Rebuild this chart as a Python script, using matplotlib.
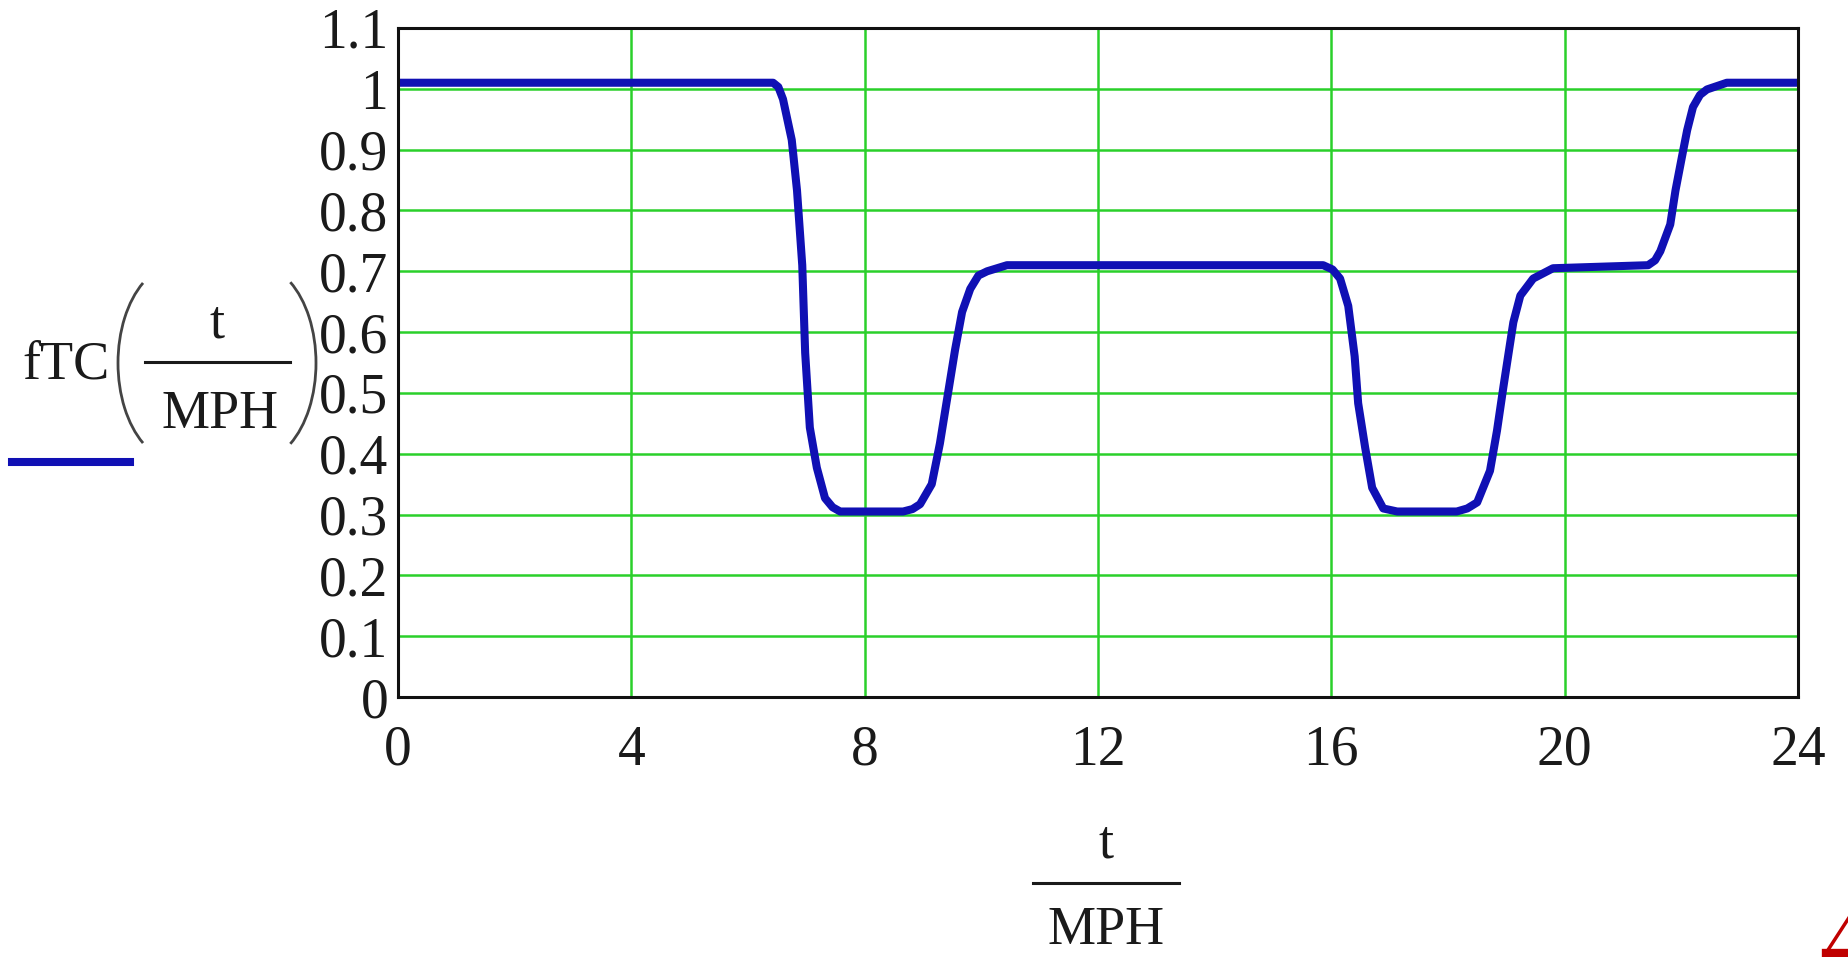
import matplotlib.pyplot as plt
from matplotlib.patches import Arc
from matplotlib.lines import Line2D
from matplotlib.transforms import IdentityTransform

# values
hours = [0, 6.43, 6.52, 6.6, 6.75, 6.84, 6.93, 6.98, 7.06, 7.18, 7.32, 7.45, 7.58,
         8.66, 8.82, 8.95, 9.15, 9.29, 9.43, 9.55, 9.67, 9.81, 9.95, 10.1, 10.44,
         15.86, 16.02, 16.15, 16.29, 16.4, 16.46, 16.58, 16.7, 16.89, 17.13,
         18.15, 18.33, 18.5, 18.72, 18.84, 18.95, 19.03, 19.12, 19.24, 19.46, 19.8,
         21.43, 21.55, 21.64, 21.81, 21.9, 22.01, 22.1, 22.2, 22.32, 22.44, 22.78, 24]
ftc = [1.01, 1.01, 1.003, 0.983, 0.916, 0.833, 0.71, 0.566, 0.443, 0.377, 0.327, 0.312, 0.305,
       0.305, 0.309, 0.317, 0.35, 0.417, 0.50, 0.571, 0.633, 0.671, 0.693, 0.70, 0.71,
       0.71, 0.703, 0.688, 0.643, 0.56, 0.483, 0.41, 0.344, 0.31, 0.305,
       0.305, 0.31, 0.32, 0.372, 0.438, 0.51, 0.56, 0.616, 0.66, 0.688, 0.705,
       0.71, 0.718, 0.733, 0.777, 0.833, 0.888, 0.932, 0.97, 0.99, 0.999, 1.01, 1.01]

x_ticks = [0, 4, 8, 12, 16, 20, 24]
y_ticks = [0, 0.1, 0.2, 0.3, 0.4, 0.5, 0.6, 0.7, 0.8, 0.9, 1.0, 1.1]
y_labels = ["0", "0.1", "0.2", "0.3", "0.4", "0.5", "0.6", "0.7", "0.8", "0.9", "1", "1.1"]

W, H = 1849, 957
plt.rcParams['font.family'] = ['Liberation Serif', 'DejaVu Serif']

fig = plt.figure(figsize=(W / 100, H / 100), dpi=100)
ax = fig.add_axes([398 / W, 1 - 697 / H, 1400 / W, 669 / H])


def fx(x):
    return x / W


def fy(y):
    return 1 - y / H


blue = '#1010b4'
green = '#2ad02a'
ink = '#1a1a1a'

ax.plot(hours, ftc, color=blue, lw=5.8, solid_joinstyle='round', solid_capstyle='butt', zorder=3)

ax.set_xlim(0, 24)
ax.set_ylim(0, 1.1)
ax.set_xticks(x_ticks)
ax.set_xticklabels([str(v) for v in x_ticks])
ax.set_yticks(y_ticks)
ax.set_yticklabels(y_labels)
ax.tick_params(axis='both', length=0, labelsize=40, colors=ink)
ax.tick_params(axis='x', pad=20)
ax.tick_params(axis='y', pad=7)
ax.grid(True, color=green, lw=1.8, zorder=1)
for s in ax.spines.values():
    s.set_linewidth(2.2)
    s.set_color('#111111')
    s.set_zorder(4)

# y axis label: fTC( t / MPH )
txt = dict(fontsize=39, color=ink)
fig.text(fx(66), fy(378), "fTC", ha='center', va='baseline', **txt)
fig.text(fx(217), fy(337), "t", ha='center', va='baseline', **txt)
fig.text(fx(220), fy(428), "MPH", ha='center', va='baseline', **txt)
fig.add_artist(Line2D([fx(145), fx(290)], [fy(362), fy(362)], color=ink, lw=2.2))
# parentheses drawn in pixel space
fig.add_artist(Arc((178, H - 363), 120, 197, theta1=113.6, theta2=246.4,
                   color='#444444', lw=2.0, transform=IdentityTransform()))
fig.add_artist(Arc((256, H - 363), 120, 197, theta1=-67, theta2=67,
                   color='#444444', lw=2.0, transform=IdentityTransform()))
# legend stroke
fig.add_artist(Line2D([fx(12), fx(130)], [fy(462), fy(462)], color=blue, lw=5.8))

# x axis label: t / MPH
fig.text(fx(1106), fy(858), "t", ha='center', va='baseline', **txt)
fig.text(fx(1106), fy(944), "MPH", ha='center', va='baseline', **txt)
fig.add_artist(Line2D([fx(1033), fx(1179)], [fy(883), fy(883)], color=ink, lw=2.2))

# red marker cut at the corner
fig.add_artist(Line2D([fx(1828), fx(1852)], [fy(950), fy(913)], color='#c00000', lw=2.5))
fig.add_artist(Line2D([fx(1826), fx(1849)], [fy(953), fy(953)], color='#c00000', lw=6))

fig.savefig('out.png', dpi=100)
